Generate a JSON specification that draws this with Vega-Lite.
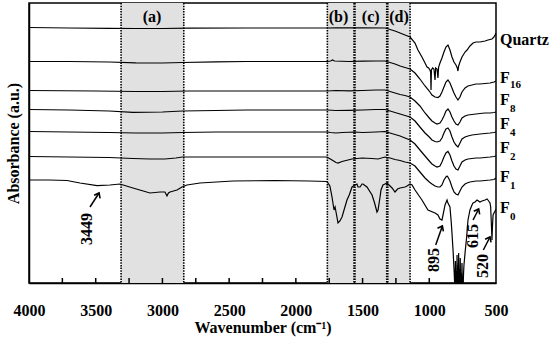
{
  "$schema": "https://vega.github.io/schema/vega-lite/v6.json",
  "width": 467,
  "height": 280,
  "autosize": "none",
  "padding": {"left": 29, "top": 3, "right": 54, "bottom": 54},
  "config": {
    "font": "Liberation Serif",
    "view": {"stroke": "black", "strokeWidth": 1.5},
    "axis": {"grid": false, "domainColor": "black", "domainWidth": 1.5, "tickColor": "black", "labelColor": "black", "titleColor": "black", "labelFont": "Liberation Serif", "titleFont": "Liberation Serif", "labelFontWeight": "bold", "titleFontWeight": "bold", "labelFontSize": 16, "titleFontSize": 16}
  },
  "datasets": {
    "regions": [
      {"r": "(a)", "x1": 3310, "x2": 2840, "xm": 3078},
      {"r": "(b)", "x1": 1764, "x2": 1564, "xm": 1680},
      {"r": "(c)", "x1": 1557, "x2": 1319, "xm": 1439},
      {"r": "(d)", "x1": 1311, "x2": 1144, "xm": 1227}
    ],
    "ticks": [
      {"t": 3750}, {"t": 3500}, {"t": 3250}, {"t": 3000}, {"t": 2750}, {"t": 2500}, {"t": 2250}, {"t": 2000}, {"t": 1750}, {"t": 1500}, {"t": 1250}, {"t": 1000}, {"t": 750}
    ],
    "labels": [
      {"name": "Quartz", "sub": "", "v": 243, "vs": 243},
      {"name": "F", "sub": "16", "v": 205, "vs": 198},
      {"name": "F", "sub": "8", "v": 183, "vs": 174},
      {"name": "F", "sub": "4", "v": 159, "vs": 150},
      {"name": "F", "sub": "2", "v": 135, "vs": 126},
      {"name": "F", "sub": "1", "v": 106, "vs": 97},
      {"name": "F", "sub": "0", "v": 75, "vs": 66}
    ],
    "notes": [
      {"t": "3449", "w": 3565, "v": 54},
      {"t": "895", "w": 961, "v": 23},
      {"t": "615", "w": 672, "v": 47},
      {"t": "520", "w": 597, "v": 17}
    ],
    "arrows": [
      {"w1": 3543, "v1": 76, "w2": 3475, "v2": 90},
      {"w1": 952, "v1": 38, "w2": 902, "v2": 57},
      {"w1": 672, "v1": 63, "w2": 630, "v2": 74},
      {"w1": 595, "v1": 33, "w2": 545, "v2": 46}
    ],
    "spec": [
      {"s":"Q","w":4000,"a":255.5},{"s":"Q","w":3700,"a":255},{"s":"Q","w":3400,"a":254.7},{"s":"Q","w":3200,"a":254.5},{"s":"Q","w":3000,"a":254.5},{"s":"Q","w":2800,"a":254.8},{"s":"Q","w":2370,"a":255},{"s":"Q","w":2000,"a":255},{"s":"Q","w":1764,"a":255},{"s":"Q","w":1700,"a":255.2},{"s":"Q","w":1500,"a":255.2},{"s":"Q","w":1332,"a":255},{"s":"Q","w":1294,"a":253.5},{"s":"Q","w":1257,"a":252},{"s":"Q","w":1219,"a":250},{"s":"Q","w":1182,"a":248},{"s":"Q","w":1144,"a":246},{"s":"Q","w":1107,"a":240},{"s":"Q","w":1085,"a":233},{"s":"Q","w":1055,"a":226},{"s":"Q","w":1032,"a":220},{"s":"Q","w":1017,"a":216},{"s":"Q","w":1005,"a":215},{"s":"Q","w":995,"a":213},{"s":"Q","w":990,"a":211},{"s":"Q","w":987,"a":193},{"s":"Q","w":984,"a":213},{"s":"Q","w":975,"a":215},{"s":"Q","w":965,"a":214},{"s":"Q","w":957,"a":203},{"s":"Q","w":952,"a":215},{"s":"Q","w":942,"a":214},{"s":"Q","w":935,"a":205},{"s":"Q","w":930,"a":216},{"s":"Q","w":920,"a":220},{"s":"Q","w":905,"a":225},{"s":"Q","w":890,"a":231},{"s":"Q","w":875,"a":236},{"s":"Q","w":860,"a":238},{"s":"Q","w":845,"a":233},{"s":"Q","w":830,"a":226},{"s":"Q","w":815,"a":221},{"s":"Q","w":800,"a":218},{"s":"Q","w":790,"a":215},{"s":"Q","w":785,"a":212},{"s":"Q","w":780,"a":217},{"s":"Q","w":770,"a":221},{"s":"Q","w":755,"a":226},{"s":"Q","w":732,"a":231},{"s":"Q","w":717,"a":233},{"s":"Q","w":695,"a":237},{"s":"Q","w":672,"a":240},{"s":"Q","w":650,"a":241},{"s":"Q","w":620,"a":241},{"s":"Q","w":582,"a":242},{"s":"Q","w":560,"a":243},{"s":"Q","w":530,"a":244},{"s":"Q","w":515,"a":246},{"s":"Q","w":507,"a":248},{"s":"Q","w":500,"a":250},
      {"s":"F16","w":4000,"a":221.5},{"s":"F16","w":3700,"a":221.5},{"s":"F16","w":3400,"a":221},{"s":"F16","w":3200,"a":220.2},{"s":"F16","w":3000,"a":220},{"s":"F16","w":2850,"a":220.5},{"s":"F16","w":2600,"a":221.2},{"s":"F16","w":2370,"a":221.5},{"s":"F16","w":2000,"a":221.5},{"s":"F16","w":1764,"a":221.5},{"s":"F16","w":1740,"a":222},{"s":"F16","w":1725,"a":223},{"s":"F16","w":1710,"a":222},{"s":"F16","w":1600,"a":221.5},{"s":"F16","w":1500,"a":221.8},{"s":"F16","w":1400,"a":222},{"s":"F16","w":1332,"a":222},{"s":"F16","w":1294,"a":220.5},{"s":"F16","w":1257,"a":219},{"s":"F16","w":1219,"a":217},{"s":"F16","w":1182,"a":215.5},{"s":"F16","w":1144,"a":214},{"s":"F16","w":1107,"a":210},{"s":"F16","w":1070,"a":204},{"s":"F16","w":1032,"a":197},{"s":"F16","w":1000,"a":192},{"s":"F16","w":980,"a":188},{"s":"F16","w":957,"a":186},{"s":"F16","w":935,"a":185.5},{"s":"F16","w":920,"a":187},{"s":"F16","w":905,"a":191},{"s":"F16","w":890,"a":196},{"s":"F16","w":875,"a":201},{"s":"F16","w":860,"a":203},{"s":"F16","w":845,"a":200},{"s":"F16","w":830,"a":195},{"s":"F16","w":815,"a":190},{"s":"F16","w":800,"a":186},{"s":"F16","w":785,"a":183},{"s":"F16","w":770,"a":186},{"s":"F16","w":755,"a":191},{"s":"F16","w":732,"a":195},{"s":"F16","w":710,"a":197},{"s":"F16","w":680,"a":198},{"s":"F16","w":650,"a":199},{"s":"F16","w":620,"a":199},{"s":"F16","w":582,"a":199.5},{"s":"F16","w":545,"a":200},{"s":"F16","w":515,"a":201},{"s":"F16","w":500,"a":202},
      {"s":"F8","w":4000,"a":192.5},{"s":"F8","w":3500,"a":192},{"s":"F8","w":3200,"a":191.5},{"s":"F8","w":3000,"a":191.5},{"s":"F8","w":2800,"a":192},{"s":"F8","w":2370,"a":192},{"s":"F8","w":2000,"a":192},{"s":"F8","w":1764,"a":192},{"s":"F8","w":1700,"a":192.5},{"s":"F8","w":1600,"a":192.2},{"s":"F8","w":1500,"a":192.5},{"s":"F8","w":1400,"a":193},{"s":"F8","w":1332,"a":193},{"s":"F8","w":1294,"a":191.5},{"s":"F8","w":1257,"a":190},{"s":"F8","w":1219,"a":188.5},{"s":"F8","w":1182,"a":187.5},{"s":"F8","w":1144,"a":186},{"s":"F8","w":1107,"a":182},{"s":"F8","w":1070,"a":177},{"s":"F8","w":1032,"a":170},{"s":"F8","w":1000,"a":165},{"s":"F8","w":980,"a":162},{"s":"F8","w":957,"a":160},{"s":"F8","w":942,"a":159},{"s":"F8","w":920,"a":160},{"s":"F8","w":905,"a":163},{"s":"F8","w":890,"a":167},{"s":"F8","w":875,"a":172},{"s":"F8","w":860,"a":174},{"s":"F8","w":845,"a":171},{"s":"F8","w":830,"a":166},{"s":"F8","w":815,"a":162},{"s":"F8","w":800,"a":159},{"s":"F8","w":785,"a":158},{"s":"F8","w":770,"a":161},{"s":"F8","w":755,"a":165},{"s":"F8","w":732,"a":167},{"s":"F8","w":710,"a":168},{"s":"F8","w":680,"a":168.5},{"s":"F8","w":650,"a":169},{"s":"F8","w":620,"a":169.5},{"s":"F8","w":582,"a":170},{"s":"F8","w":545,"a":170},{"s":"F8","w":515,"a":170.5},{"s":"F8","w":500,"a":171},
      {"s":"F4","w":4000,"a":173.5},{"s":"F4","w":3700,"a":173},{"s":"F4","w":3400,"a":172},{"s":"F4","w":3221,"a":170.7},{"s":"F4","w":3000,"a":171},{"s":"F4","w":2850,"a":172},{"s":"F4","w":2600,"a":172.5},{"s":"F4","w":2370,"a":173},{"s":"F4","w":2000,"a":173},{"s":"F4","w":1764,"a":173},{"s":"F4","w":1700,"a":172.5},{"s":"F4","w":1600,"a":172.7},{"s":"F4","w":1500,"a":173},{"s":"F4","w":1400,"a":173.5},{"s":"F4","w":1332,"a":173.5},{"s":"F4","w":1294,"a":172},{"s":"F4","w":1257,"a":170.5},{"s":"F4","w":1219,"a":169},{"s":"F4","w":1182,"a":167.5},{"s":"F4","w":1144,"a":166},{"s":"F4","w":1107,"a":162},{"s":"F4","w":1070,"a":156},{"s":"F4","w":1032,"a":150},{"s":"F4","w":1000,"a":146},{"s":"F4","w":980,"a":143},{"s":"F4","w":957,"a":141.5},{"s":"F4","w":942,"a":141},{"s":"F4","w":920,"a":142},{"s":"F4","w":905,"a":145},{"s":"F4","w":890,"a":150},{"s":"F4","w":875,"a":154},{"s":"F4","w":860,"a":155},{"s":"F4","w":845,"a":152},{"s":"F4","w":830,"a":146},{"s":"F4","w":815,"a":141},{"s":"F4","w":800,"a":138},{"s":"F4","w":785,"a":136},{"s":"F4","w":770,"a":140},{"s":"F4","w":755,"a":144},{"s":"F4","w":732,"a":146},{"s":"F4","w":710,"a":147},{"s":"F4","w":680,"a":148},{"s":"F4","w":650,"a":148.5},{"s":"F4","w":620,"a":149},{"s":"F4","w":582,"a":149.5},{"s":"F4","w":545,"a":150},{"s":"F4","w":515,"a":150.5},{"s":"F4","w":500,"a":151},
      {"s":"F2","w":4000,"a":151.5},{"s":"F2","w":3700,"a":151},{"s":"F2","w":3400,"a":150.5},{"s":"F2","w":3200,"a":150},{"s":"F2","w":3000,"a":150},{"s":"F2","w":2850,"a":150.5},{"s":"F2","w":2600,"a":151},{"s":"F2","w":2000,"a":151},{"s":"F2","w":1764,"a":151},{"s":"F2","w":1740,"a":150.5},{"s":"F2","w":1700,"a":150},{"s":"F2","w":1650,"a":150.5},{"s":"F2","w":1557,"a":151},{"s":"F2","w":1500,"a":150.5},{"s":"F2","w":1400,"a":151},{"s":"F2","w":1332,"a":151.5},{"s":"F2","w":1294,"a":150},{"s":"F2","w":1257,"a":148.5},{"s":"F2","w":1219,"a":147},{"s":"F2","w":1182,"a":145},{"s":"F2","w":1144,"a":143},{"s":"F2","w":1107,"a":139},{"s":"F2","w":1070,"a":133},{"s":"F2","w":1032,"a":127},{"s":"F2","w":1000,"a":122},{"s":"F2","w":980,"a":119},{"s":"F2","w":957,"a":117},{"s":"F2","w":942,"a":116},{"s":"F2","w":920,"a":117},{"s":"F2","w":905,"a":121},{"s":"F2","w":890,"a":126},{"s":"F2","w":875,"a":130},{"s":"F2","w":860,"a":131.5},{"s":"F2","w":845,"a":128},{"s":"F2","w":830,"a":122},{"s":"F2","w":815,"a":117},{"s":"F2","w":800,"a":114},{"s":"F2","w":785,"a":113},{"s":"F2","w":770,"a":117},{"s":"F2","w":755,"a":121},{"s":"F2","w":732,"a":123},{"s":"F2","w":710,"a":124},{"s":"F2","w":680,"a":124.5},{"s":"F2","w":650,"a":125},{"s":"F2","w":620,"a":125},{"s":"F2","w":582,"a":125.5},{"s":"F2","w":545,"a":126},{"s":"F2","w":515,"a":126.5},{"s":"F2","w":500,"a":127},
      {"s":"F1","w":4000,"a":126.5},{"s":"F1","w":3700,"a":126},{"s":"F1","w":3400,"a":125.5},{"s":"F1","w":3221,"a":124.5},{"s":"F1","w":3093,"a":124},{"s":"F1","w":2981,"a":124},{"s":"F1","w":2900,"a":125},{"s":"F1","w":2850,"a":126},{"s":"F1","w":2600,"a":126},{"s":"F1","w":2000,"a":126},{"s":"F1","w":1767,"a":126},{"s":"F1","w":1729,"a":123},{"s":"F1","w":1699,"a":120.5},{"s":"F1","w":1684,"a":120},{"s":"F1","w":1654,"a":121.5},{"s":"F1","w":1609,"a":123},{"s":"F1","w":1579,"a":124},{"s":"F1","w":1504,"a":125},{"s":"F1","w":1430,"a":124.5},{"s":"F1","w":1384,"a":124},{"s":"F1","w":1332,"a":126},{"s":"F1","w":1294,"a":125},{"s":"F1","w":1257,"a":123.5},{"s":"F1","w":1219,"a":122.5},{"s":"F1","w":1182,"a":121},{"s":"F1","w":1144,"a":120},{"s":"F1","w":1107,"a":117},{"s":"F1","w":1070,"a":111},{"s":"F1","w":1032,"a":105},{"s":"F1","w":1000,"a":101},{"s":"F1","w":980,"a":99},{"s":"F1","w":957,"a":97},{"s":"F1","w":935,"a":96},{"s":"F1","w":920,"a":96},{"s":"F1","w":905,"a":98},{"s":"F1","w":890,"a":103},{"s":"F1","w":875,"a":106},{"s":"F1","w":867,"a":107},{"s":"F1","w":860,"a":106},{"s":"F1","w":845,"a":102},{"s":"F1","w":830,"a":96},{"s":"F1","w":815,"a":91},{"s":"F1","w":800,"a":89},{"s":"F1","w":785,"a":88},{"s":"F1","w":770,"a":92},{"s":"F1","w":755,"a":96},{"s":"F1","w":732,"a":99},{"s":"F1","w":717,"a":100},{"s":"F1","w":695,"a":101},{"s":"F1","w":672,"a":101.5},{"s":"F1","w":650,"a":102},{"s":"F1","w":620,"a":102},{"s":"F1","w":582,"a":102.5},{"s":"F1","w":545,"a":103},{"s":"F1","w":515,"a":103.5},{"s":"F1","w":500,"a":105},
      {"s":"F0","w":4000,"a":103},{"s":"F0","w":3850,"a":103},{"s":"F0","w":3715,"a":102.5},{"s":"F0","w":3618,"a":100},{"s":"F0","w":3490,"a":97.3},{"s":"F0","w":3393,"a":98},{"s":"F0","w":3318,"a":99},{"s":"F0","w":3221,"a":95},{"s":"F0","w":3093,"a":90},{"s":"F0","w":3018,"a":91},{"s":"F0","w":2981,"a":91},{"s":"F0","w":2966,"a":87},{"s":"F0","w":2955,"a":90},{"s":"F0","w":2943,"a":91},{"s":"F0","w":2891,"a":93},{"s":"F0","w":2853,"a":96},{"s":"F0","w":2816,"a":98},{"s":"F0","w":2718,"a":100},{"s":"F0","w":2471,"a":102},{"s":"F0","w":2156,"a":102.5},{"s":"F0","w":1900,"a":102},{"s":"F0","w":1767,"a":101.5},{"s":"F0","w":1745,"a":97},{"s":"F0","w":1729,"a":86},{"s":"F0","w":1714,"a":73},{"s":"F0","w":1706,"a":76},{"s":"F0","w":1699,"a":71},{"s":"F0","w":1684,"a":60},{"s":"F0","w":1670,"a":62},{"s":"F0","w":1654,"a":66},{"s":"F0","w":1617,"a":83},{"s":"F0","w":1600,"a":88},{"s":"F0","w":1579,"a":96},{"s":"F0","w":1557,"a":98},{"s":"F0","w":1542,"a":99},{"s":"F0","w":1534,"a":96},{"s":"F0","w":1519,"a":96},{"s":"F0","w":1504,"a":99},{"s":"F0","w":1497,"a":99},{"s":"F0","w":1467,"a":96},{"s":"F0","w":1429,"a":88},{"s":"F0","w":1410,"a":80},{"s":"F0","w":1392,"a":71},{"s":"F0","w":1384,"a":73},{"s":"F0","w":1369,"a":86},{"s":"F0","w":1362,"a":93},{"s":"F0","w":1347,"a":98},{"s":"F0","w":1332,"a":99},{"s":"F0","w":1317,"a":100},{"s":"F0","w":1294,"a":97},{"s":"F0","w":1279,"a":95},{"s":"F0","w":1257,"a":91},{"s":"F0","w":1238,"a":94},{"s":"F0","w":1219,"a":95},{"s":"F0","w":1182,"a":96},{"s":"F0","w":1167,"a":97},{"s":"F0","w":1144,"a":99},{"s":"F0","w":1129,"a":98},{"s":"F0","w":1107,"a":93},{"s":"F0","w":1055,"a":83},{"s":"F0","w":1010,"a":73},{"s":"F0","w":957,"a":70},{"s":"F0","w":935,"a":68},{"s":"F0","w":920,"a":64},{"s":"F0","w":905,"a":63},{"s":"F0","w":897,"a":68},{"s":"F0","w":882,"a":78},{"s":"F0","w":867,"a":83},{"s":"F0","w":860,"a":80},{"s":"F0","w":845,"a":76},{"s":"F0","w":835,"a":60},{"s":"F0","w":830,"a":50},{"s":"F0","w":822,"a":33},{"s":"F0","w":815,"a":15},{"s":"F0","w":810,"a":0},{"s":"F0","w":807,"a":-10},{"s":"F0","w":804,"a":22},{"s":"F0","w":801,"a":-10},{"s":"F0","w":798,"a":12},{"s":"F0","w":795,"a":-10},{"s":"F0","w":792,"a":28},{"s":"F0","w":789,"a":-10},{"s":"F0","w":786,"a":18},{"s":"F0","w":783,"a":-10},{"s":"F0","w":780,"a":30},{"s":"F0","w":777,"a":-10},{"s":"F0","w":774,"a":14},{"s":"F0","w":771,"a":-10},{"s":"F0","w":768,"a":25},{"s":"F0","w":765,"a":-10},{"s":"F0","w":762,"a":10},{"s":"F0","w":759,"a":-10},{"s":"F0","w":755,"a":20},{"s":"F0","w":751,"a":-10},{"s":"F0","w":747,"a":-5},{"s":"F0","w":743,"a":10},{"s":"F0","w":740,"a":18},{"s":"F0","w":732,"a":30},{"s":"F0","w":720,"a":46},{"s":"F0","w":710,"a":63},{"s":"F0","w":695,"a":73},{"s":"F0","w":680,"a":78},{"s":"F0","w":672,"a":80},{"s":"F0","w":657,"a":81},{"s":"F0","w":642,"a":83},{"s":"F0","w":620,"a":81},{"s":"F0","w":605,"a":82},{"s":"F0","w":582,"a":83},{"s":"F0","w":567,"a":84},{"s":"F0","w":555,"a":82},{"s":"F0","w":545,"a":80},{"s":"F0","w":540,"a":76},{"s":"F0","w":535,"a":60},{"s":"F0","w":530,"a":43},{"s":"F0","w":527,"a":55},{"s":"F0","w":522,"a":68},{"s":"F0","w":515,"a":70},{"s":"F0","w":507,"a":72},{"s":"F0","w":500,"a":74}
    ]
  },
  "layer": [
    {
      "data": {"name": "regions"},
      "mark": {"type": "rect", "fill": "#e1e1e1"},
      "encoding": {
        "x": {"field": "x1", "type": "quantitative", "title": "Wavenumber (cm⁻¹)", "scale": {"domain": [4000, 500], "nice": false, "zero": false},
          "axis": {"values": [4000, 3500, 3000, 2500, 2000, 1500, 1000, 500], "format": "d", "ticks": false, "labelPadding": 19, "titlePadding": 1, "labelFlush": false, "labelOverlap": false}},
        "x2": {"field": "x2"}
      }
    },
    {
      "data": {"name": "regions"},
      "mark": {"type": "rule", "color": "black", "strokeWidth": 1.6, "strokeDash": [1.5, 1.2]},
      "encoding": {"x": {"field": "x1", "type": "quantitative", "title": "Wavenumber (cm⁻¹)"}}
    },
    {
      "data": {"name": "regions"},
      "mark": {"type": "rule", "color": "black", "strokeWidth": 1.6, "strokeDash": [1.5, 1.2]},
      "encoding": {"x": {"field": "x2", "type": "quantitative", "title": "Wavenumber (cm⁻¹)"}}
    },
    {
      "data": {"name": "ticks"},
      "mark": {"type": "rule", "color": "black", "strokeWidth": 1.5},
      "encoding": {
        "x": {"field": "t", "type": "quantitative", "title": "Wavenumber (cm⁻¹)"},
        "y": {"datum": 0, "type": "quantitative", "title": "Absorbance (a.u.)"},
        "y2": {"datum": 5}
      }
    },
    {
      "data": {"name": "regions"},
      "mark": {"type": "text", "fontWeight": "bold", "fontSize": 16, "font": "Liberation Serif", "color": "black", "baseline": "middle"},
      "encoding": {
        "x": {"field": "xm", "type": "quantitative", "title": "Wavenumber (cm⁻¹)"},
        "y": {"datum": 266, "type": "quantitative", "title": "Absorbance (a.u.)"},
        "text": {"field": "r"}
      }
    },
    {
      "data": {"name": "spec"},
      "mark": {"type": "line", "color": "black", "strokeWidth": 1.2, "clip": true},
      "encoding": {
        "x": {"field": "w", "type": "quantitative", "title": "Wavenumber (cm⁻¹)"},
        "y": {"field": "a", "type": "quantitative", "title": "Absorbance (a.u.)", "scale": {"domain": [0, 280], "nice": false, "zero": false},
          "axis": {"labels": false, "ticks": false, "titlePadding": 8}},
        "detail": {"field": "s"}
      }
    },
    {
      "data": {"name": "labels"},
      "mark": {"type": "text", "fontWeight": "bold", "fontSize": 16, "font": "Liberation Serif", "color": "black", "align": "left", "baseline": "middle", "dx": 4},
      "encoding": {
        "x": {"datum": 500, "type": "quantitative", "title": "Wavenumber (cm⁻¹)"},
        "y": {"field": "v", "type": "quantitative", "title": "Absorbance (a.u.)"},
        "text": {"field": "name"}
      }
    },
    {
      "data": {"name": "labels"},
      "transform": [{"filter": "datum.sub !== ''"}],
      "mark": {"type": "text", "fontWeight": "bold", "fontSize": 11, "font": "Liberation Serif", "color": "black", "align": "left", "baseline": "middle", "dx": 14},
      "encoding": {
        "x": {"datum": 500, "type": "quantitative", "title": "Wavenumber (cm⁻¹)"},
        "y": {"field": "vs", "type": "quantitative", "title": "Absorbance (a.u.)"},
        "text": {"field": "sub"}
      }
    },
    {
      "data": {"name": "notes"},
      "mark": {"type": "text", "fontWeight": "bold", "fontSize": 16, "font": "Liberation Serif", "color": "black", "align": "center", "baseline": "middle", "angle": 270},
      "encoding": {
        "x": {"field": "w", "type": "quantitative", "title": "Wavenumber (cm⁻¹)"},
        "y": {"field": "v", "type": "quantitative", "title": "Absorbance (a.u.)"},
        "text": {"field": "t"}
      }
    },
    {
      "data": {"name": "arrows"},
      "mark": {"type": "rule", "color": "black", "strokeWidth": 1.5},
      "encoding": {
        "x": {"field": "w1", "type": "quantitative", "title": "Wavenumber (cm⁻¹)"},
        "y": {"field": "v1", "type": "quantitative", "title": "Absorbance (a.u.)"},
        "x2": {"field": "w2"},
        "y2": {"field": "v2"}
      }
    },
    {
      "data": {"name": "arrows"},
      "mark": {"type": "point", "shape": "M-0.7,0.9L0,0L0.7,0.9", "filled": false, "stroke": "black", "strokeWidth": 1.6, "size": 90, "angle": 27, "opacity": 1},
      "encoding": {
        "x": {"field": "w2", "type": "quantitative", "title": "Wavenumber (cm⁻¹)"},
        "y": {"field": "v2", "type": "quantitative", "title": "Absorbance (a.u.)"}
      }
    }
  ]
}
